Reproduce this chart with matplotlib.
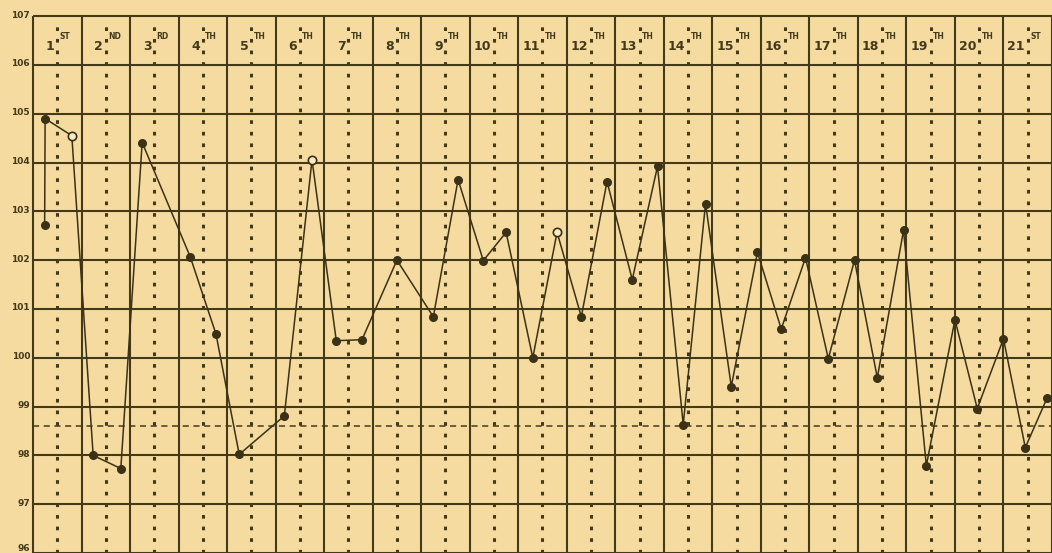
import matplotlib
matplotlib.use("Agg")
import matplotlib.pyplot as plt

# ---- data ----
days = list(range(1, 22))
suffixes = ["ST", "ND", "RD"] + ["TH"] * 17 + ["ST"]
day_labels = [str(d) for d in days]

# time (in days from start of chart) and temperature (°F)
times = [0.24, 0.25, 0.80, 1.24, 1.81, 2.25, 3.24, 3.77, 4.25, 5.18, 5.75,
         6.25, 6.78, 7.50, 8.25, 8.76, 9.28, 9.75, 10.30, 10.80, 11.30,
         11.83, 12.35, 12.87, 13.40, 13.86, 14.39, 14.93, 15.42, 15.92,
         16.39, 16.93, 17.40, 17.94, 18.41, 19.00, 19.46, 20.00, 20.45, 20.90]
temps = [102.73, 104.90, 104.55, 98.00, 97.73, 104.41, 102.07, 100.49, 98.02,
         98.81, 104.06, 100.35, 100.37, 102.00, 100.84, 103.65, 101.99, 102.57,
         100.00, 102.57, 100.84, 103.61, 101.60, 103.92, 98.63, 103.16, 99.41,
         102.16, 100.59, 102.05, 99.98, 102.00, 99.59, 102.61, 97.79, 100.78,
         98.96, 100.39, 98.16, 99.18]
open_points = [2, 10, 19]
y_ticks = list(range(96, 108))
normal_temp = 98.6

paper = "#f5dba0"
ink = "#433a1a"
line_ink = "#3a3116"

fig = plt.figure(figsize=(10.52, 5.53), dpi=100, facecolor=paper)
ax = fig.add_axes([0, 0, 1, 1])
ax.set_facecolor(paper)
ax.set_xlim(-0.68, 21.0)
ax.set_ylim(96.0, 107.33)
ax.axis("off")

# horizontal grid
for t in y_ticks:
    ax.plot([0, 21.0], [t, t], color=ink, lw=1.5, solid_capstyle="butt", zorder=1)
    ty = t + 0.02 if t > 96 else t + 0.1
    ax.text(-0.06, ty, str(t), ha="right", va="center", fontsize=6.5,
            color=ink, fontweight="bold", family="DejaVu Sans")

# vertical day lines
for k in range(0, 22):
    ax.plot([k, k], [96.0, 107.0], color=ink, lw=1.5, solid_capstyle="butt", zorder=1)

# dotted mid-day lines
for k in range(0, 21):
    ax.plot([k + 0.5, k + 0.5], [96.0, 106.92], color=ink, lw=2.2,
            linestyle=(0, (1.2, 2.6)), zorder=1)

# normal temperature dashed line
ax.plot([0, 21.0], [normal_temp, normal_temp], color=ink, lw=1.1,
        linestyle=(0, (4, 3)), zorder=1)

# header labels
for k, (lab, suf) in enumerate(zip(day_labels, suffixes)):
    ax.text(k + 0.44, 106.38, lab, ha="right", va="center", fontsize=9,
            color=ink, fontweight="bold", family="DejaVu Sans", zorder=3)
    ax.text(k + 0.55, 106.58, suf, ha="left", va="center", fontsize=5.5,
            color=ink, fontweight="bold", family="DejaVu Sans", zorder=3)

# temperature curve
ax.plot(times, temps, color=line_ink, lw=1.1, marker="o", markersize=5.5,
        markerfacecolor=line_ink, markeredgecolor=line_ink, zorder=4)
ax.plot([times[i] for i in open_points], [temps[i] for i in open_points],
        linestyle="none", marker="o", markersize=6, markerfacecolor="#f8ecc8",
        markeredgecolor=line_ink, markeredgewidth=1.2, zorder=5)

fig.savefig("out.png", dpi=100, facecolor=paper)
